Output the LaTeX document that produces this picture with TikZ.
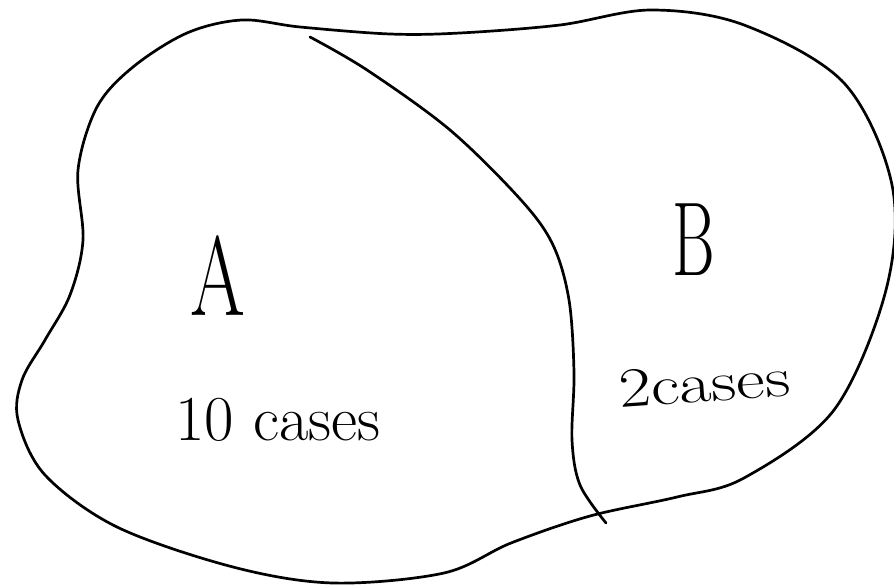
\documentclass[tikz,border=0pt]{standalone}
\begin{document}
\begin{tikzpicture}[x=1pt,y=-1pt,
  hand/.style={line width=2.7pt,line join=round,line cap=round},
  lbl/.style={inner sep=0pt}]
\useasboundingbox (0,0) rectangle (894,588);
\fill[white] (0,0) rectangle (894,588);
% outline
\draw[hand] plot[smooth cycle,tension=0.55] coordinates {
 (242,20) (300,27) (390,34) (460,33) (560,25) (651,10) (744,25)
 (844,83) (892,185) (886,290) (834,410) (744,478) (677,497) (590,516)
 (511,543) (444,573) (333,583) (233,567) (117,527) (45,475) (18,420)
 (22,380) (45,340) (70,295) (83,240) (78,170) (97,107) (133,67) (187,33)};
% divider
\coordinate (top) at (310,37);
\coordinate (bot) at (606,523);
\draw[hand] plot[smooth,tension=0.55] coordinates {
 (top) (367,70) (450,130) (521,200) (553,245)
 (569,300) (574,373) (572,440) (580,485) (bot)};
% labels
\node[lbl,anchor=base,font=\fontsize{113}{113}\selectfont] (A) at (218,315) {\scalebox{0.7}[1]{A}};
\node[lbl,anchor=base west,font=\fontsize{64}{64}\selectfont] (Acases) at (175,440) {10 cases};
\node[lbl,anchor=base,font=\fontsize{105}{105}\selectfont] (B) at (694,275) {\scalebox{0.62}[1]{B}};
\node[lbl,anchor=base west,rotate=4,font=\fontsize{56}{56}\selectfont] (Bcases) at (620,408) {\scalebox{1.25}[1]{2cases}};
\end{tikzpicture}
\end{document}
